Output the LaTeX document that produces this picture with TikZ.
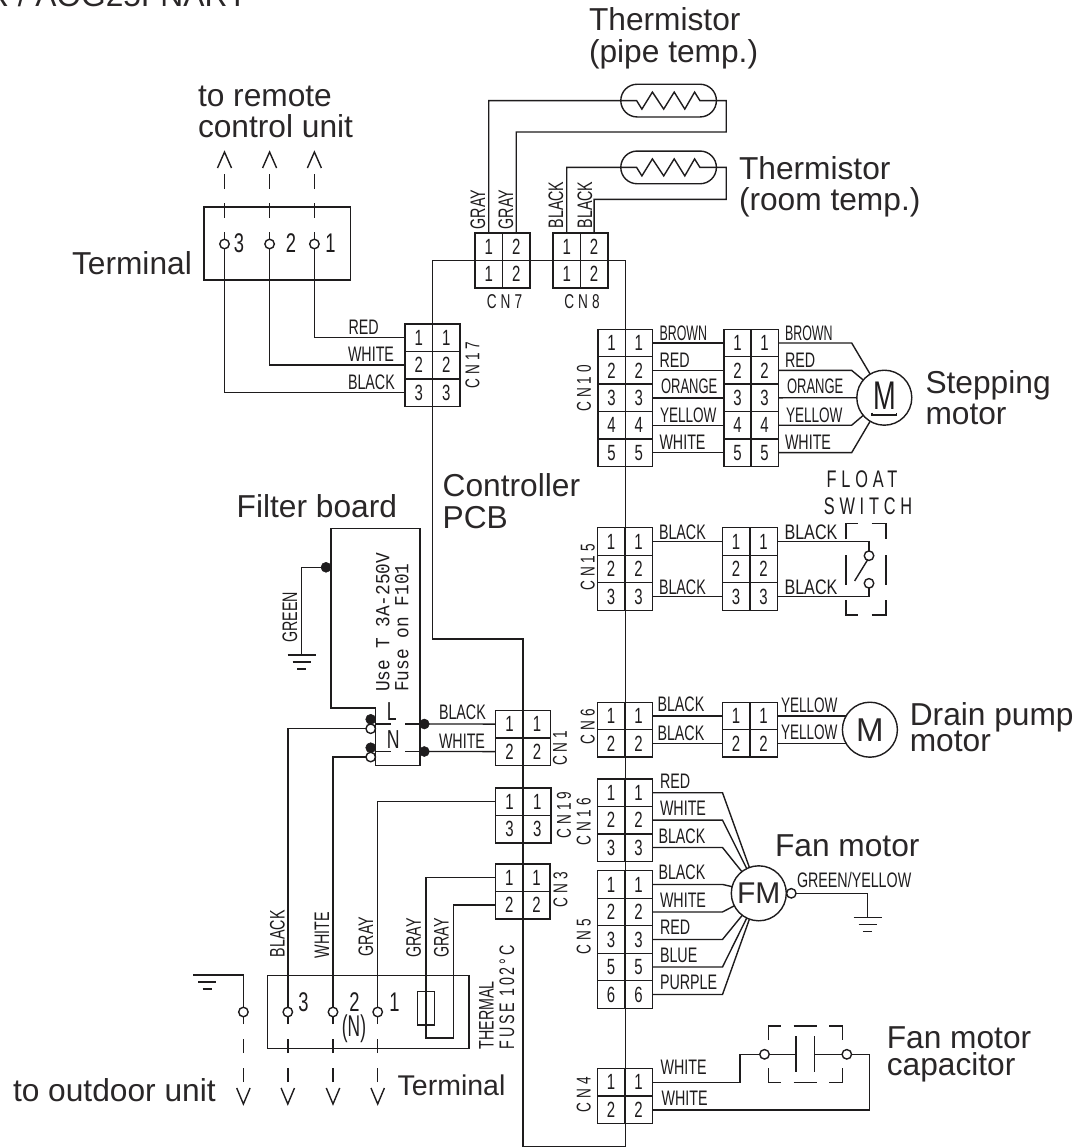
\documentclass[tikz,border=0pt]{standalone}
\usepackage{fontspec}
\setmainfont{Liberation Sans}
\newfontfamily\wirefam[FakeStretch=0.68]{Liberation Sans}
\newfontfamily\cnfam[FakeStretch=0.68,LetterSpace=20]{Liberation Sans}
\newfontfamily\fusefam[FakeStretch=0.68,LetterSpace=13]{Liberation Sans}
\newfontfamily\monofam[FakeStretch=0.89]{Liberation Mono}
\pgfdeclarelayer{wires}
\pgfsetlayers{wires,main}
\definecolor{inkc}{HTML}{1E1C1D}
\definecolor{labc}{HTML}{2A2728}
\newcounter{lbl}
\tikzset{
  wire/.style={draw=inkc,line width=1.4pt,line join=miter},
  dashw/.style={wire,dash pattern=on 14.5pt off 14.5pt},
  big/.style={text=labc,inner sep=0pt,outer sep=0pt,anchor=base west,font=\fontsize{31.7}{32}\selectfont},
  wlab/.style={text=inkc,inner sep=0pt,outer sep=0pt,anchor=west,font=\wirefam\fontsize{21}{21}\selectfont},
  rlab/.style={wlab,anchor=center,rotate=90},
  cnlab/.style={text=inkc,inner sep=0pt,outer sep=0pt,anchor=center,font=\cnfam\fontsize{20}{20}\selectfont},
  swlab/.style={cnlab,font=\cnfam\fontsize{24}{24}\selectfont},
  cell/.style={draw=inkc,line width=1.4pt,inner sep=0pt,outer sep=0pt,rectangle,text=inkc,font=\wirefam\fontsize{22}{22}\selectfont},
  pin/.style={circle,draw=inkc,line width=1.4pt,fill=white,minimum size=9.5pt,inner sep=0pt,outer sep=0pt},
  dot/.style={circle,draw=inkc,fill=inkc,line width=.5pt,minimum size=10pt,inner sep=0pt,outer sep=0pt},
  motor/.style={circle,draw=inkc,line width=1.4pt,fill=white,minimum size=55pt,inner sep=0pt,outer sep=0pt,text=labc},
  capsule/.style={rectangle,draw=inkc,line width=1.4pt,minimum width=95.6pt,minimum height=32.7pt,rounded corners=16.3pt,inner sep=0pt,outer sep=0pt},
  dig/.style={text=inkc,inner sep=0pt,outer sep=0pt,anchor=center,font=\wirefam\fontsize{27}{27}\selectfont},
  monol/.style={text=inkc,inner sep=0pt,outer sep=0pt,anchor=west,rotate=90,font=\monofam\fontsize{20}{20}\selectfont},
  boxr/.style={draw=inkc,line width=1.4pt}
}
% connector: name, x-left, x-right, y-top, row height, list of left/right digits
\newcommand{\conn}[6]{%
  \foreach \dl/\dr [count=\ri] in {#6}{%
    \node[cell,minimum width={(#3-#2)/2*1pt},minimum height={#5*1pt}] (#1-l\ri) at ({#2+(#3-#2)/4},{#4+(\ri-.5)*#5}) {\dl};
    \node[cell,minimum width={(#3-#2)/2*1pt},minimum height={#5*1pt}] (#1-r\ri) at ({#2+3*(#3-#2)/4},{#4+(\ri-.5)*#5}) {\dr};
  }}
\newcommand{\wl}[3]{\stepcounter{lbl}\node[wlab] (wl\thelbl) at (#1,#2) {#3};}
\newcommand{\wls}[4]{\stepcounter{lbl}\node[wlab] (wl\thelbl) at (#1,#2) {\scalebox{#3}[1]{#4}};}
\newcommand{\rl}[3]{\stepcounter{lbl}\node[rlab] (wl\thelbl) at (#1,#2) {#3};}
\newcommand{\cnv}[3]{\stepcounter{lbl}\node[cnlab,rotate=90] (wl\thelbl) at (#1,#2) {#3};}
\newcommand{\cnh}[3]{\stepcounter{lbl}\node[cnlab] (wl\thelbl) at (#1,#2) {#3};}
\newcommand{\bl}[3]{\stepcounter{lbl}\node[big] (wl\thelbl) at (#1,#2) {#3};}
\newcommand{\dg}[3]{\stepcounter{lbl}\node[dig] (wl\thelbl) at (#1,#2) {#3};}
\newcommand{\gndsym}[1]{%
  \draw[wire] ([shift={(-14,0)}]#1)--([shift={(14,0)}]#1);
  \draw[wire] ([shift={(-9,7)}]#1)--([shift={(9,7)}]#1);
  \draw[wire] ([shift={(-4.6,14)}]#1)--([shift={(4.6,14)}]#1);}
\newcommand{\uparr}[1]{\draw[wire] ([shift={(-7,-6)}]#1)--([shift={(0,-22)}]#1)--([shift={(7,-6)}]#1);}
\newcommand{\dnarr}[1]{\draw[wire] ([shift={(-6.7,6)}]#1)--([shift={(0,22)}]#1)--([shift={(6.7,6)}]#1);}
\begin{document}
\begin{tikzpicture}[x=1pt,y=-1pt]
\useasboundingbox (0,0) rectangle (1091,1148);
\clip (0,0) rectangle (1091,1148);
\begin{pgfonlayer}{wires}
\fill[white] (0,0) rectangle (1091,1148);
\end{pgfonlayer}

% ---------- free text
\node[big,anchor=base east] (title) at (248,7) {R / AOG25FNARY};
\bl{198}{106}{to remote}
\bl{198}{137.7}{control unit}
\bl{72}{274}{Terminal}
\bl{589}{30.7}{Thermistor}
\bl{589}{62.3}{(pipe temp.)}
\bl{739}{179}{Thermistor}
\bl{739}{210.7}{(room temp.)}
\bl{925.5}{393}{Stepping}
\bl{925.5}{424.3}{motor}
\bl{442.7}{496.7}{Controller}
\bl{442.7}{528.3}{PCB}
\bl{236.7}{517.3}{Filter board}
\bl{909.8}{725}{Drain pump}
\bl{909.8}{751.7}{motor}
\bl{775}{856.7}{Fan motor}
\bl{886.8}{1048.3}{Fan motor}
\bl{886.8}{1075}{capacitor}
\bl{13}{1101.7}{to outdoor unit}
\node[big,font=\fontsize{28.5}{30}\selectfont] (trmlab) at (397.7,1095) {Terminal};

% ---------- connectors
\conn{cn17}{405}{460}{324}{27.4}{1/1,2/2,3/3}
\conn{cn7}{475}{530}{233}{27.5}{1/2,1/2}
\conn{cn8}{553}{607.8}{233}{27.5}{1/2,1/2}
\conn{cn10}{598}{652.4}{329.3}{27.4}{1/1,2/2,3/3,4/4,5/5}
\conn{cn10b}{723.8}{778.2}{329.3}{27.4}{1/1,2/2,3/3,4/4,5/5}
\conn{cn15}{597.3}{652.4}{527.7}{27.5}{1/1,2/2,3/3}
\conn{cn15b}{722.2}{777.4}{527.7}{27.5}{1/1,2/2,3/3}
\conn{cn6}{597.3}{652.4}{702.3}{27.4}{1/1,2/2}
\conn{cn6b}{722.2}{777.4}{702.3}{27.4}{1/1,2/2}
\conn{cn1}{495.7}{550.7}{710.3}{27.5}{1/1,2/2}
\conn{cn16}{597.3}{652.4}{779}{27.4}{1/1,2/2,3/3}
\conn{cn19}{495.7}{551}{788}{27.4}{1/1,3/3}
\conn{cn3}{495.7}{550}{864}{27.4}{1/1,2/2}
\conn{cn5}{597.3}{652.4}{870.7}{27.5}{1/1,2/2,3/3,5/5,6/6}
\conn{cn4}{597.3}{652.4}{1068.7}{27.4}{1/1,2/2}

% ---------- connector names
\cnv{472.5}{365}{CN17}
\cnh{504.5}{302}{CN7}
\cnh{582}{302}{CN8}
\cnv{584}{388.3}{CN10}
\cnv{587.8}{567.3}{CN15}
\cnv{587.8}{726.7}{CN6}
\cnv{560}{748.3}{CN1}
\cnv{564}{815}{CN19}
\cnv{583.7}{821.7}{CN16}
\cnv{560.5}{890}{CN3}
\cnv{583.7}{936.7}{CN5}
\cnv{583.7}{1095}{CN4}

% ---------- components
\node[rectangle,boxr,minimum width=146.5pt,minimum height=73pt,inner sep=0,outer sep=0] (trm1) at (277.25,243.5) {};
\node[pin] (a3) at (224.5,244) {};
\node[pin] (a2) at (269.6,244) {};
\node[pin] (a1) at (314.4,244) {};
\dg{239}{243}{3}\dg{291}{243}{2}\dg{330.6}{243}{1}
\coordinate (u3) at (224.5,174);
\coordinate (u2) at (269.6,174);
\coordinate (u1) at (314.4,174);
\uparr{u3}\uparr{u2}\uparr{u1}

\node[capsule] (th1) at (668.6,100.6) {};
\node[capsule] (th2) at (668.6,167.4) {};
\coordinate (th1b) at (726.2,132);
\coordinate (th2b) at (726.2,199.3);

\node[motor] (sm) at (884.3,397.7) {};
\node[wlab,anchor=center,font=\wirefam\fontsize{40}{40}\selectfont] (smM) at (884.8,396) {M};
\draw[wire] (872,412.5)--(872,415)--(896.5,415)--(896.5,412.5);

\node[motor,font=\fontsize{33}{33}\selectfont] (dp) at (869.9,729.7) {M};
\node[motor,font=\fontsize{30}{30}\selectfont] (fm) at (758.8,893.3) {FM};
\node[pin] (fmg) at (791.3,893.3) {};
\coordinate (gnd3) at (867.5,917.7);
\gndsym{gnd3}

% float switch
\node[pin] (sw1) at (869,555.7) {};
\node[pin] (sw2) at (869,583.3) {};
\draw[wire] (854.6,581)--(867.5,560);
\draw[wire] (846,539.3)--(846,523.3)--(858,523.3);
\draw[wire] (871.5,523.3)--(885.8,523.3)--(885.8,539.3);
\draw[wire] (846,555)--(846,585);
\draw[wire] (885.8,555)--(885.8,585);
\draw[wire] (846,600)--(846,615)--(858,615);
\draw[wire] (871.5,615)--(885.8,615)--(885.8,600);
\node[swlab] (swf) at (862,479) {FLOAT};
\node[swlab] (swl) at (868,506) {SWITCH};

% capacitor
\node[pin] (c1) at (764.5,1054.3) {};
\node[pin] (c2) at (846.8,1054.3) {};
\coordinate (pl1t) at (796,1036);
\coordinate (pl1b) at (796,1072.3);
\coordinate (pl2t) at (814.7,1036);
\coordinate (pl2b) at (814.7,1072.3);
\coordinate (pl1) at (796,1054.3);
\coordinate (pl2) at (814.7,1054.3);
\draw[wire] (pl1t)--(pl1b);
\draw[wire] (pl2t)--(pl2b);
\draw[wire] (768.6,1040)--(768.6,1026)--(780.8,1026);
\draw[wire] (793.7,1026)--(817.4,1026);
\draw[wire] (829.2,1026)--(842.4,1026)--(842.4,1040);
\draw[wire] (768.6,1068.3)--(768.6,1082.7)--(780.8,1082.7);
\draw[wire] (793.7,1082.7)--(817.4,1082.7);
\draw[wire] (829.2,1082.7)--(842.4,1082.7)--(842.4,1068.3);
\coordinate (capb) at (869.2,1054.3);

% filter board
\coordinate (f1) at (331,708);
\coordinate (f2) at (331,528.7);
\coordinate (f3) at (420,528.7);
\coordinate (f4) at (420,765.7);
\coordinate (f5) at (375.3,765.7);
\coordinate (f6) at (375.3,708);
\draw[wire] (f1)--(f2)--(f3)--(f4)--(f5)--(f6)--cycle;
\node[dot] (fg) at (326,567.3) {};
\coordinate (gnd1) at (301.7,655);
\gndsym{gnd1}
\node[monol] (fu1) at (382.7,691.7) {Use T 3A-250V};
\node[monol] (fu2) at (401.7,691.7) {Fuse on F101};
\node[wlab,anchor=center,font=\wirefam\fontsize{26}{26}\selectfont] (fL) at (391.7,711.7) {L};
\node[wlab,anchor=center,font=\wirefam\fontsize{26}{26}\selectfont] (fN) at (393.3,740) {N};
\node[dot] (d1) at (370.7,719.3) {};
\node[pin] (o1) at (370.7,728.7) {};
\node[dot] (d2) at (370.7,747.7) {};
\node[pin] (o2) at (370.7,757) {};
\node[dot] (d3) at (424.3,724) {};
\node[dot] (d4) at (424.3,751.5) {};
\draw[wire] (375.3,724)--(390.7,724);
\draw[wire] (405,724)--(d3);
\draw[wire] (375.3,751.5)--(390.7,751.5);
\draw[wire] (405,751.5)--(d4);

% lower terminal
\node[rectangle,boxr,minimum width=201.5pt,minimum height=73pt,inner sep=0,outer sep=0] (trm2) at (368.25,1011.8) {};
\node[pin] (b0) at (243.4,1012) {};
\node[pin] (b3) at (287.8,1012) {};
\node[pin] (b2) at (333,1012) {};
\node[pin] (b1) at (377.7,1012) {};
\dg{303.4}{1001.7}{3}\dg{354.4}{1001.7}{2}\dg{394.4}{1001.7}{1}
\node[dig,font=\wirefam\fontsize{30}{30}\selectfont] (dgN) at (354,1028.5) {\scalebox{.85}[1]{(N)}};
\node[rectangle,boxr,minimum width=17.4pt,minimum height=33.3pt,inner sep=0,outer sep=0] (fuse) at (426,1008.3) {};
\coordinate (dn0) at (243.4,1082);
\coordinate (dn3) at (287.8,1082);
\coordinate (dn2) at (333,1082);
\coordinate (dn1) at (377.7,1082);
\dnarr{dn0}\dnarr{dn3}\dnarr{dn2}\dnarr{dn1}
\coordinate (gnd2) at (207.2,975);
\gndsym{gnd2}
\node[monol,font=\wirefam\fontsize{21}{21}\selectfont] (thm1) at (486.5,1049.3) {THERMAL};
\node[monol,font=\fusefam\fontsize{21}{21}\selectfont] (thm2) at (506.8,1049.3) {FUSE 102°C};

% ---------- wire names
\wl{348.5}{327}{RED}\wl{348}{354}{WHITE}\wl{348}{382}{BLACK}
\rl{478}{209.5}{GRAY}\rl{506}{209.5}{GRAY}
\rl{555.8}{205}{BLACK}\rl{585}{205}{BLACK}
\wls{659.5}{333.3}{.87}{BROWN}\wl{659.5}{360}{RED}\wls{661}{386.7}{.91}{ORANGE}\wls{660}{415.7}{.95}{YELLOW}\wl{659.5}{442.7}{WHITE}
\wls{785}{333.3}{.87}{BROWN}\wl{785}{360}{RED}\wls{787}{386.7}{.91}{ORANGE}\wls{786}{415.7}{.95}{YELLOW}\wl{785}{442.7}{WHITE}
\wl{659}{532.3}{BLACK}\wl{659}{587.3}{BLACK}\wls{784.5}{532.3}{1.13}{BLACK}\wls{784.5}{587.3}{1.13}{BLACK}
\wl{657.5}{704}{BLACK}\wl{657.5}{733.3}{BLACK}\wls{781}{705.7}{.95}{YELLOW}\wls{781}{732.7}{.95}{YELLOW}
\wl{660}{781}{RED}\wl{660}{808.3}{WHITE}\wl{658.5}{836}{BLACK}
\wl{658.5}{872.7}{BLACK}\wl{660}{900}{WHITE}\wl{660}{927.3}{RED}\wl{660}{955}{BLUE}\wl{660}{982.3}{PURPLE}
\wl{797}{880}{GREEN/YELLOW}
\wl{660.6}{1067.7}{WHITE}\wl{661.6}{1098.3}{WHITE}
\rl{290}{617.3}{GREEN}
\wl{439}{712.3}{BLACK}\wl{439}{741}{WHITE}
\rl{277.5}{933.7}{BLACK}\rl{321.9}{935}{WHITE}\rl{366}{936.7}{GRAY}\rl{413.6}{938}{GRAY}\rl{441.4}{938}{GRAY}

% ---------- wires (under components)
\begin{pgfonlayer}{wires}
% PCB outline
\coordinate (pa) at (432.4,260.5);
\coordinate (pb) at (625.2,260.5);
\coordinate (pc) at (625.2,1146.7);
\coordinate (pd) at (523,1146.7);
\coordinate (pe) at (523,639);
\coordinate (pf) at (432.4,639);
\draw[wire] (pa)--(pb)--(pc)--(pd)--(pe)--(pf)--cycle;
% remote terminal
\draw[dashw] (u3)--(a3.center);
\draw[dashw] (u2)--(a2.center);
\draw[dashw] (u1)--(a1.center);
\draw[wire] (a1.center) |- (cn17-l1.west);
\draw[wire] (a2.center) |- (cn17-l2.west);
\draw[wire] (a3.center) |- (cn17-l3.west);
% thermistors
\draw[wire] (cn7-l1.north) |- ([xshift=-32pt]th1.center) -- ++(5.3,8.5) -- ++(10.5,-17) -- ++(11.3,17) -- ++(10.5,-17) -- ++(10.6,17) -- ++(9.8,-17) -- ++(5.3,8.5) -| (th1b) -| (cn7-r1.north);
\draw[wire] (cn8-l1.north) |- ([xshift=-32pt]th2.center) -- ++(5.3,8.5) -- ++(10.5,-17) -- ++(11.3,17) -- ++(10.5,-17) -- ++(10.6,17) -- ++(9.8,-17) -- ++(5.3,8.5) -| (th2b) -| (cn8-r1.north);
% stepping motor
\foreach \i in {1,...,5}{\draw[wire] (cn10-r\i.east) -- (cn10b-l\i.west);}
\draw[wire] (cn10b-r1.east) -- ++(73.5,0) -- (sm.121);
\draw[wire] (cn10b-r2.east) -- ++(73.5,0) -- (sm.140);
\draw[wire] (cn10b-r3.east) -- (sm.center);
\draw[wire] (cn10b-r4.east) -- ++(73.5,0) -- (sm.220);
\draw[wire] (cn10b-r5.east) -- ++(73.5,0) -- (sm.239);
% float switch
\draw[wire] (cn15-r1.east) -- (cn15b-l1.west);
\draw[wire] (cn15-r3.east) -- (cn15b-l3.west);
\draw[wire] (cn15b-r1.east) -| (sw1.center);
\draw[wire] (cn15b-r3.east) -| (sw2.center);
% drain pump
\draw[wire] (cn6-r1.east) -- (cn6b-l1.west);
\draw[wire] (cn6-r2.east) -- (cn6b-l2.west);
\draw[wire] (cn6b-r1.east) -- (cn6b-r1.east -| dp.center);
\draw[wire] (cn6b-r2.east) -- (cn6b-r2.east -| dp.center);
% fan motor
\draw[wire] (cn16-r1.east) -- ++(70.1,0) -- (fm.110);
\draw[wire] (cn16-r2.east) -- ++(70.1,0) -- (fm.116.6);
\draw[wire] (cn16-r3.east) -- ++(70.1,0) -- (fm.128);
\draw[wire] (cn5-r1.east) -- ++(70.1,0) -- (fm.166);
\draw[wire] (cn5-r2.east) -- ++(70.1,0) -- (fm.207);
\draw[wire] (cn5-r3.east) -- ++(70.1,0) -- (fm.233);
\draw[wire] (cn5-r4.east) -- ++(70.1,0) -- (fm.244);
\draw[wire] (cn5-r5.east) -- ++(70.1,0) -- (fm.250);
\draw[wire] (fmg.center) -| (gnd3);
% capacitor
\draw[wire] (cn4-r1.east) -| ([xshift=-24.5pt]c1.center) -- (c1.center) -- (pl1);
\draw[wire] (pl2) -- (c2.center) -- (capb) |- (cn4-r2.east);
% filter board
\draw[wire] (fg.center) -| (gnd1);
\draw[wire] (o1.center) -| (b3.center);
\draw[wire] (o2.center) -| (b2.center);
\draw[wire] (d3.center) -- (cn1-l1.west);
\draw[wire] (d4.center) -- (cn1-l2.west);
% lower terminal
\draw[wire] (cn19-l1.west) -| (b1.center);
\draw[wire] (b0.center) |- (gnd2);
\draw[dashw] (dn0)--(b0.center);
\draw[dashw] (dn3)--(b3.center);
\draw[dashw] (dn2)--(b2.center);
\draw[dashw] (dn1)--(b1.center);
\coordinate (fb1) at (425.8,1038);
\coordinate (fb2) at (453.6,1038);
\draw[wire] (cn3-l1.west) -| (fb1) -- (fb2) |- (cn3-l2.west);
\end{pgfonlayer}
\end{tikzpicture}
\end{document}
